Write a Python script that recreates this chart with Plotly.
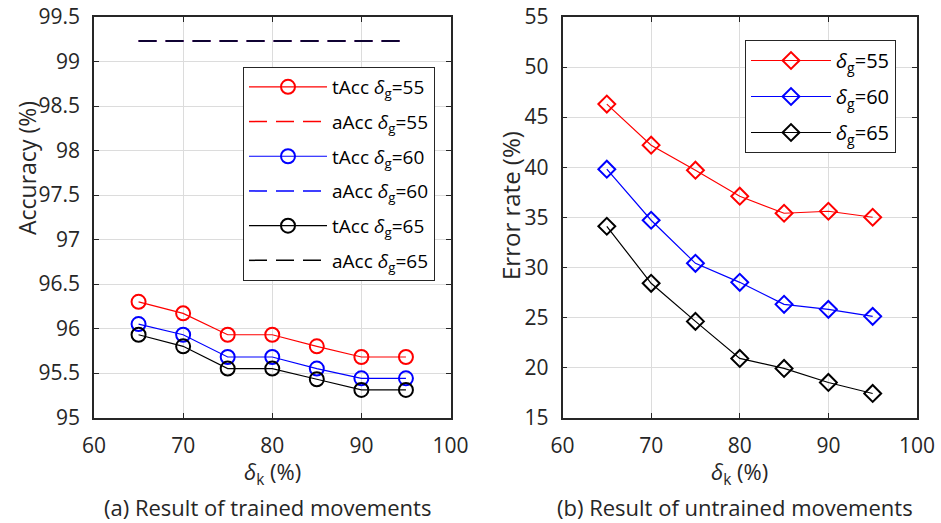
import plotly.graph_objects as go

# ---- data ----
delta_k = [65, 70, 75, 80, 85, 90, 95]

tacc_55 = [96.30, 96.17, 95.93, 95.93, 95.80, 95.68, 95.68]
tacc_60 = [96.05, 95.93, 95.68, 95.68, 95.55, 95.44, 95.44]
tacc_65 = [95.93, 95.80, 95.55, 95.55, 95.43, 95.31, 95.31]
aacc_55 = [99.23] * 7
aacc_60 = [99.23] * 7
aacc_65 = [99.23] * 7

err_55 = [46.3, 42.2, 39.7, 37.1, 35.4, 35.6, 35.0]
err_60 = [39.8, 34.7, 30.4, 28.5, 26.3, 25.8, 25.1]
err_65 = [34.1, 28.4, 24.6, 20.9, 19.9, 18.5, 17.4]

groups = ["55", "60", "65"]
colors = ["#FF0000", "#0000FF", "#000000"]

x_ticks = [60, 70, 80, 90, 100]
y1_ticks = [95, 95.5, 96, 96.5, 97, 97.5, 98, 98.5, 99, 99.5]
y2_ticks = [15, 20, 25, 30, 35, 40, 45, 50, 55]

FONT = "Open Sans"
AX = "#262626"

fig = go.Figure()

k = 0
for g, c, t, a in zip(groups, colors, [tacc_55, tacc_60, tacc_65], [aacc_55, aacc_60, aacc_65]):
    fig.add_trace(go.Scatter(
        x=delta_k, y=t, mode="lines+markers",
        name=f"tAcc <i>δ</i><sub>g</sub>={g}",
        legendgroup=f"l{k}",
        line=dict(color=c, width=1.2),
        marker=dict(symbol="circle-open", size=14, color=c, line=dict(width=2, color=c)),
        xaxis="x", yaxis="y", legend="legend"))
    k += 1
    fig.add_trace(go.Scatter(
        x=delta_k, y=a, mode="lines",
        name=f"aAcc <i>δ</i><sub>g</sub>={g}",
        legendgroup=f"l{k}",
        line=dict(color=c, width=1.5, dash="18px,9px"),
        xaxis="x", yaxis="y", legend="legend"))
    k += 1

for g, c, e in zip(groups, colors, [err_55, err_60, err_65]):
    fig.add_trace(go.Scatter(
        x=delta_k, y=e, mode="lines+markers",
        name=f"<i>δ</i><sub>g</sub>={g}",
        legendgroup=f"r{g}",
        line=dict(color=c, width=1.2),
        marker=dict(symbol="diamond-open", size=13, color=c, line=dict(width=2, color=c)),
        xaxis="x2", yaxis="y2", legend="legend2"))

W, H = 941, 523
L1, R1 = 94, 450.5
L2, R2 = 562.5, 917
T, B = 17, 417.5

def ax_common():
    return dict(
        showline=True, linecolor=AX, linewidth=1.6, mirror="ticks",
        ticks="inside", ticklen=5, tickcolor=AX, tickwidth=1,
        showgrid=True, gridcolor="#dcdcdc", gridwidth=1,
        zeroline=False,
        tickfont=dict(family=FONT, size=21, color=AX),
        automargin=False, ticklabelstandoff=8,
    )

fig.update_layout(
    width=W, height=H,
    margin=dict(l=0, r=0, t=0, b=0),
    paper_bgcolor="white", plot_bgcolor="white",
    font=dict(family=FONT, color=AX),
    xaxis=dict(domain=[L1 / W, R1 / W], range=[60, 100], tickvals=x_ticks,
               anchor="y", **ax_common()),
    yaxis=dict(domain=[1 - B / H, 1 - T / H], range=[95, 99.5], tickvals=y1_ticks,
               ticktext=[f"{v:g}" for v in y1_ticks], anchor="x", **ax_common()),
    xaxis2=dict(domain=[L2 / W, R2 / W], range=[60, 100], tickvals=x_ticks,
                anchor="y2", **ax_common()),
    yaxis2=dict(domain=[1 - B / H, 1 - T / H], range=[15, 55], tickvals=y2_ticks,
                anchor="x2", **ax_common()),
    legend=dict(x=435 / W, xanchor="right", y=1 - 67 / H, yanchor="top",
                bgcolor="white", bordercolor=AX, borderwidth=1,
                font=dict(family=FONT, size=19, color="#000000"),
                itemwidth=78, tracegroupgap=7),
    legend2=dict(x=896 / W, xanchor="right", y=1 - 40 / H, yanchor="top",
                 bgcolor="white", bordercolor=AX, borderwidth=1,
                 font=dict(family=FONT, size=20, color="#000000"),
                 itemwidth=80, tracegroupgap=7),
    showlegend=True,
)

annots = [
    dict(x=27 / W, y=1 - 168 / H, text="Accuracy (%)", textangle=-90, size=23),
    dict(x=510 / W, y=1 - 205 / H, text="Error rate (%)", textangle=-90, size=24),
    dict(x=(L1 + R1) / 2 / W, y=1 - 473 / H, text="<i>δ</i><sub>k</sub> (%)", textangle=0, size=22),
    dict(x=(L2 + R2) / 2 / W, y=1 - 473 / H, text="<i>δ</i><sub>k</sub> (%)", textangle=0, size=22),
    dict(x=267 / W, y=1 - 507 / H, text="(a) Result of trained movements", textangle=0, size=22),
    dict(x=735 / W, y=1 - 507 / H, text="(b) Result of untrained movements", textangle=0, size=22),
]
for a in annots:
    fig.add_annotation(x=a["x"], y=a["y"], xref="paper", yref="paper", text=a["text"],
                       textangle=a["textangle"], showarrow=False,
                       xanchor="center", yanchor="middle",
                       font=dict(family=FONT, size=a["size"], color=AX))

fig.write_html("out.html")
